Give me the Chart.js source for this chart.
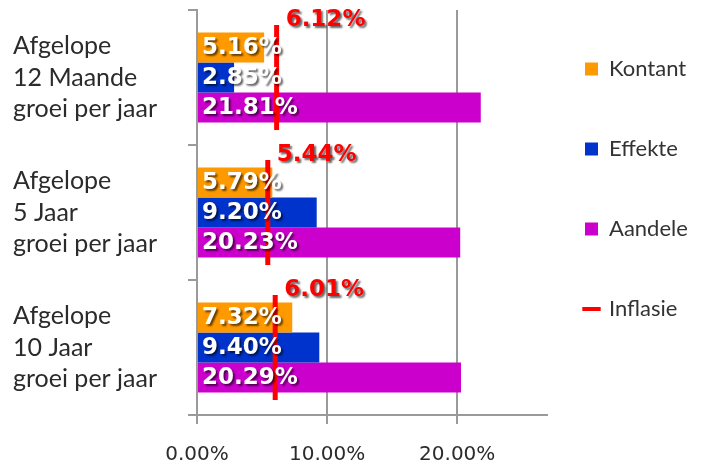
<!DOCTYPE html>
<html>
<head>
<meta charset="utf-8">
<script src="https://cdn.jsdelivr.net/npm/chart.js@4.4.1/dist/chart.umd.min.js"></script>
<style>
  html, body { margin: 0; padding: 0; background: #ffffff; }
  #wrap { width: 710px; height: 463px; position: relative; }
</style>
</head>
<body>
<div id="wrap"><canvas id="c"></canvas></div>
<script>
const categories = [
  ['Afgelope', '12 Maande', 'groei per jaar'],
  ['Afgelope', '5 Jaar', 'groei per jaar'],
  ['Afgelope', '10 Jaar', 'groei per jaar']
];
const seriesNames = ['Kontant', 'Effekte', 'Aandele', 'Inflasie'];
const kontant = [5.16, 5.79, 7.32];
const effekte = [2.85, 9.20, 9.40];
const aandele = [21.81, 20.23, 20.29];
const inflasie = [6.12, 5.44, 6.01];
const xTicks = [0, 10, 20];
const xMax = 26.9;

const fmt = v => v.toFixed(2) + '%';

const valueLabels = {
  id: 'valueLabels',
  afterDatasetsDraw(chart) {
    const ctx = chart.ctx;
    const base = chart.scales.x.getPixelForValue(0);
    ctx.save();
    ctx.font = 'bold 23px "DejaVu Sans"';
    ctx.textBaseline = 'middle';
    ctx.textAlign = 'left';
    ctx.shadowColor = 'rgba(0,0,0,0.6)';
    ctx.shadowOffsetX = 2;
    ctx.shadowOffsetY = 2;
    ctx.shadowBlur = 2;
    chart.data.datasets.forEach((ds, di) => {
      const meta = chart.getDatasetMeta(di);
      meta.data.forEach((el, i) => {
        const v = ds.data[i];
        if (ds.type === 'line') {
          ctx.fillStyle = '#FF0000';
          ctx.fillText(fmt(v), el.x + 9, el.y - 57);
        } else {
          ctx.fillStyle = '#FFFFFF';
          ctx.fillText(fmt(v), base + 5, el.y + 1);
        }
      });
    });
    ctx.restore();
  }
};

const legendNudge = {
  id: 'legendNudge',
  afterLayout(chart) {
    const l = chart.legend;
    if (!l) return;
    const pad = l.options.labels.padding;
    const dx = 585 - (l.left + pad);
    l.left += dx; l.right += dx;
    const dy = 0 - l.top;
    l.top += dy; l.bottom += dy;
  }
};

const gridColor = '#9a9a9a';

new Chart(document.getElementById('c'), {
  type: 'bar',
  data: {
    labels: categories,
    datasets: [
      { label: seriesNames[0], data: kontant, backgroundColor: '#FF9900', borderWidth: 0 },
      { label: seriesNames[1], data: effekte, backgroundColor: '#0033CC', borderWidth: 0 },
      { label: seriesNames[2], data: aandele, backgroundColor: '#CC00CC', borderWidth: 0 },
      {
        label: seriesNames[3], type: 'line', indexAxis: 'y', data: inflasie, order: -1,
        showLine: false, borderColor: '#FF0000', backgroundColor: '#FF0000',
        pointStyle: 'line', pointRotation: 90, pointRadius: 52.5, pointHoverRadius: 52.5,
        pointBorderColor: '#FF0000', pointBorderWidth: 5, pointHoverBorderWidth: 5
      }
    ]
  },
  options: {
    indexAxis: 'y',
    responsive: true,
    maintainAspectRatio: false,
    animation: false,
    events: [],
    datasets: { bar: { categoryPercentage: 0.667, barPercentage: 1.0 } },
    layout: { autoPadding: false, padding: { left: 13, top: 10, right: 0, bottom: 0 } },
    scales: {
      x: {
        type: 'linear', min: 0, max: xMax,
        afterBuildTicks(scale) { scale.ticks = xTicks.map(v => ({ value: v })); },
        afterFit(scale) { scale.height = 48; scale.paddingLeft = 0; scale.paddingRight = 0; },
        grid: { color: gridColor, lineWidth: 2, tickLength: 9, drawTicks: true },
        border: { color: gridColor, width: 2 },
        ticks: {
          callback: v => fmt(v),
          font: { family: '"DejaVu Sans"', size: 20 },
          color: '#2b2b2b', padding: 19, maxRotation: 0
        }
      },
      y: {
        type: 'category',
        afterFit(scale) { scale.width = 184; scale.paddingTop = 0; scale.paddingBottom = 0; },
        grid: { drawOnChartArea: false, color: gridColor, lineWidth: 2, tickLength: 9, offset: true },
        border: { color: gridColor, width: 2 },
        ticks: {
          crossAlign: 'far',
          font: { family: 'Lato', size: 25, lineHeight: 1.26 },
          color: '#2b2b2b', padding: 4
        }
      }
    },
    plugins: {
      tooltip: { enabled: false },
      legend: {
        position: 'right', align: 'start', maxWidth: 163,
        labels: {
          usePointStyle: true, boxWidth: 13, boxHeight: 13, padding: 58,
          color: '#333333', font: { family: 'Lato', size: 22 },
          sort: (a, b) => a.datasetIndex - b.datasetIndex,
          generateLabels(chart) {
            const items = Chart.defaults.plugins.legend.labels.generateLabels(chart);
            items.forEach(it => {
              const ds = chart.data.datasets[it.datasetIndex];
              it.rotation = 0;
              if (ds.type === 'line') {
                it.pointStyle = 'line'; it.strokeStyle = '#FF0000'; it.lineWidth = 4;
              } else {
                it.pointStyle = 'rect'; it.lineWidth = 0; it.strokeStyle = 'rgba(0,0,0,0)';
              }
            });
            return items;
          }
        }
      }
    }
  },
  plugins: [valueLabels, legendNudge]
});
</script>
</body>
</html>
